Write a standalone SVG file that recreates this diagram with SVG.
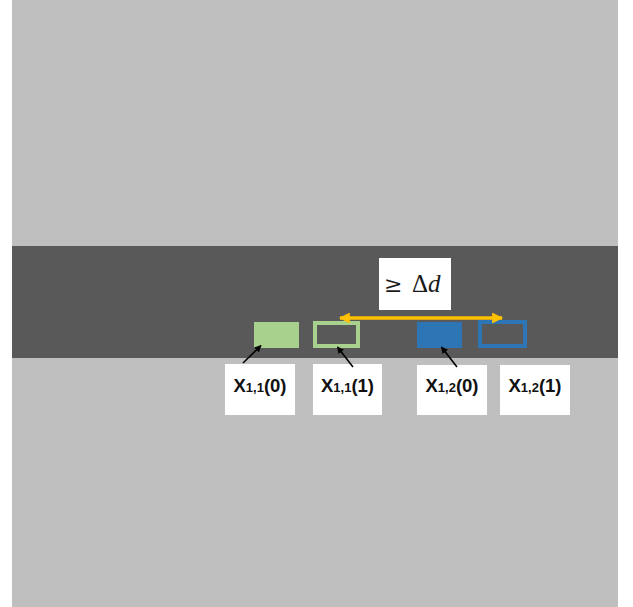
<svg xmlns="http://www.w3.org/2000/svg" width="633" height="607" viewBox="0 0 633 607">
  <style>
    .lbl-box { fill: #ffffff; }
    .lbl { font-family: "Liberation Sans", Arial, sans-serif; font-weight: bold; font-size: 18.5px; fill: #111111; text-anchor: middle; }
    .sub { font-size: 13px; }
    .ptr { stroke: #000000; stroke-width: 1.6; fill: none; marker-end: url(#ptrHead); }
    .gap { stroke: #ffc000; stroke-width: 3.5; fill: none; marker-start: url(#gapHeadL); marker-end: url(#gapHeadR); }
    .math { font-family: "Liberation Serif", "DejaVu Serif", serif; font-size: 25px; fill: #1a1a1a; }
    .rel { font-family: "DejaVu Serif", serif; font-size: 22px; }
  </style>
  <defs>
    <marker id="ptrHead" viewBox="0 0 10 10" refX="9" refY="5" markerWidth="7" markerHeight="7" orient="auto" markerUnits="userSpaceOnUse">
      <path d="M0,0 L10,5 L0,10 z" fill="#000000"/>
    </marker>
    <marker id="gapHeadR" viewBox="0 0 10 10" refX="9" refY="5" markerWidth="12" markerHeight="11" orient="auto" markerUnits="userSpaceOnUse">
      <path d="M0,0 L10,5 L0,10 z" fill="#ffc000"/>
    </marker>
    <marker id="gapHeadL" viewBox="0 0 10 10" refX="1" refY="5" markerWidth="12" markerHeight="11" orient="auto" markerUnits="userSpaceOnUse">
      <path d="M10,0 L0,5 L10,10 z" fill="#ffc000"/>
    </marker>
  </defs>

  <!-- ground and road -->
  <rect x="0" y="0" width="633" height="607" fill="#ffffff"/>
  <rect x="12" y="0" width="606" height="607" fill="#bfbfbf"/>
  <rect x="12" y="246" width="606" height="112" fill="#595959"/>

  <!-- vehicle positions -->
  <g id="x11-0"><rect x="254" y="322" width="45" height="26" fill="#a9d18e"/></g>
  <g id="x11-1"><rect x="315" y="323" width="43" height="23" fill="none" stroke="#a9d18e" stroke-width="4"/></g>
  <g id="x12-0"><rect x="417" y="322" width="45" height="26" fill="#2e75b6"/></g>
  <g id="x12-1"><rect x="480" y="322" width="45" height="24" fill="none" stroke="#2e75b6" stroke-width="4"/></g>

  <!-- distance label -->
  <g id="gap-label">
    <rect class="lbl-box" x="379" y="258" width="72" height="52"/>
    <text class="math" y="292"><tspan class="rel" x="384">≥</tspan><tspan x="412">Δ</tspan><tspan font-style="italic">d</tspan></text>
  </g>

  <!-- position labels -->
  <g id="lbl-x11-0">
    <rect class="lbl-box" x="225" y="364" width="70" height="51"/>
    <text class="lbl" x="260" y="392">X<tspan class="sub">1,1</tspan>(0)</text>
  </g>
  <g id="lbl-x11-1">
    <rect class="lbl-box" x="313" y="364" width="69" height="51"/>
    <text class="lbl" x="347.5" y="392">X<tspan class="sub">1,1</tspan>(1)</text>
  </g>
  <g id="lbl-x12-0">
    <rect class="lbl-box" x="417" y="365" width="70" height="50"/>
    <text class="lbl" x="452" y="392">X<tspan class="sub">1,2</tspan>(0)</text>
  </g>
  <g id="lbl-x12-1">
    <rect class="lbl-box" x="500" y="365" width="70" height="50"/>
    <text class="lbl" x="535" y="392">X<tspan class="sub">1,2</tspan>(1)</text>
  </g>

  <!-- connectors -->
  <g id="connectors">
    <line class="gap" x1="340" y1="318" x2="502" y2="318"/>
    <line class="ptr" x1="243" y1="363" x2="261" y2="345.5"/>
    <line class="ptr" x1="353" y1="367" x2="337.5" y2="347"/>
    <line class="ptr" x1="457" y1="367" x2="441.5" y2="347"/>
  </g>
</svg>
